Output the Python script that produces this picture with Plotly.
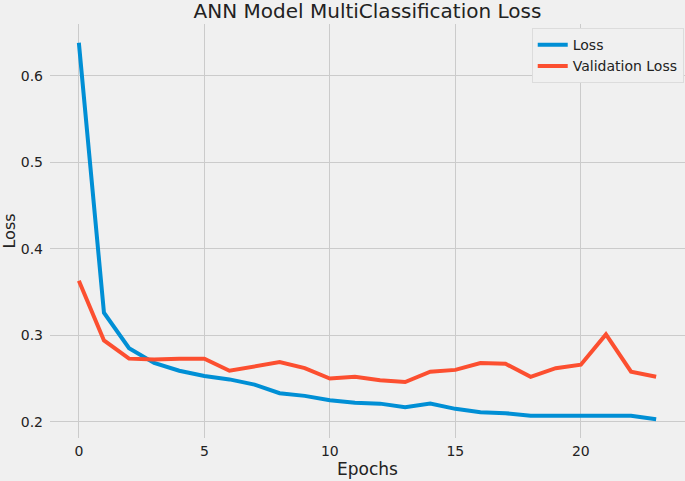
import plotly.graph_objects as go

# Training history
epochs = list(range(24))
loss = [0.638, 0.326, 0.285, 0.268, 0.259, 0.253, 0.249, 0.243, 0.233, 0.230,
        0.225, 0.222, 0.221, 0.217, 0.221, 0.215, 0.211, 0.210, 0.207, 0.207,
        0.208, 0.207, 0.207, 0.203]
val_loss = [0.363, 0.294, 0.273, 0.272, 0.273, 0.273, 0.259, 0.264, 0.269, 0.262,
            0.250, 0.252, 0.248, 0.246, 0.258, 0.260, 0.268, 0.267, 0.252, 0.262,
            0.266, 0.301, 0.258, 0.252]

BG = "#f0f0f0"
GRID = "#cbcbcb"
FONT = "DejaVu Sans"

fig = go.Figure()
fig.add_trace(go.Scatter(x=epochs, y=loss, mode="lines", name="Loss",
                         line=dict(color="#008fd5", width=4)))
fig.add_trace(go.Scatter(x=epochs, y=val_loss, mode="lines", name="Validation Loss",
                         line=dict(color="#fc4f30", width=4)))

fig.update_layout(
    width=685, height=481,
    paper_bgcolor=BG, plot_bgcolor=BG,
    margin=dict(l=50, r=0, t=24, b=43, autoexpand=False),
    font=dict(family=FONT, size=14, color="#222222"),
    title=dict(text="ANN Model MultiClassification Loss", xref="paper", x=0.5,
               xanchor="center", yref="container", y=1 - 11 / 481, yanchor="middle",
               font=dict(size=20, color="#222222")),
    legend=dict(x=0.998, y=0.99, xanchor="right", yanchor="top",
                bgcolor=BG, bordercolor="#dcdcdc", borderwidth=1,
                itemwidth=30, tracegroupgap=0, font=dict(size=14, color="#222222")),
    showlegend=True,
)
fig.update_xaxes(range=[-1.15, 24.15], tickmode="linear", tick0=0, dtick=5,
                 showgrid=True, gridcolor=GRID, gridwidth=1, zeroline=False,
                 showline=False, ticks="", ticklabelstandoff=3, automargin=False,
                 title=dict(text="Epochs", font=dict(size=17), standoff=4))
fig.update_yaxes(range=[0.1813, 0.6597], tickmode="linear", tick0=0.2, dtick=0.1,
                 tickformat=".1f", showgrid=True, gridcolor=GRID, gridwidth=1,
                 zeroline=False, showline=False, ticks="", ticklabelstandoff=6,
                 automargin=False,
                 title=dict(text="Loss", font=dict(size=16), standoff=6))

# drop the default page margin so the 685x481 figure fills the window
fig.write_html("out.html",
               config={"displayModeBar": False},
               post_script="document.body.style.margin='0';"
                           "document.body.style.overflow='hidden';")
